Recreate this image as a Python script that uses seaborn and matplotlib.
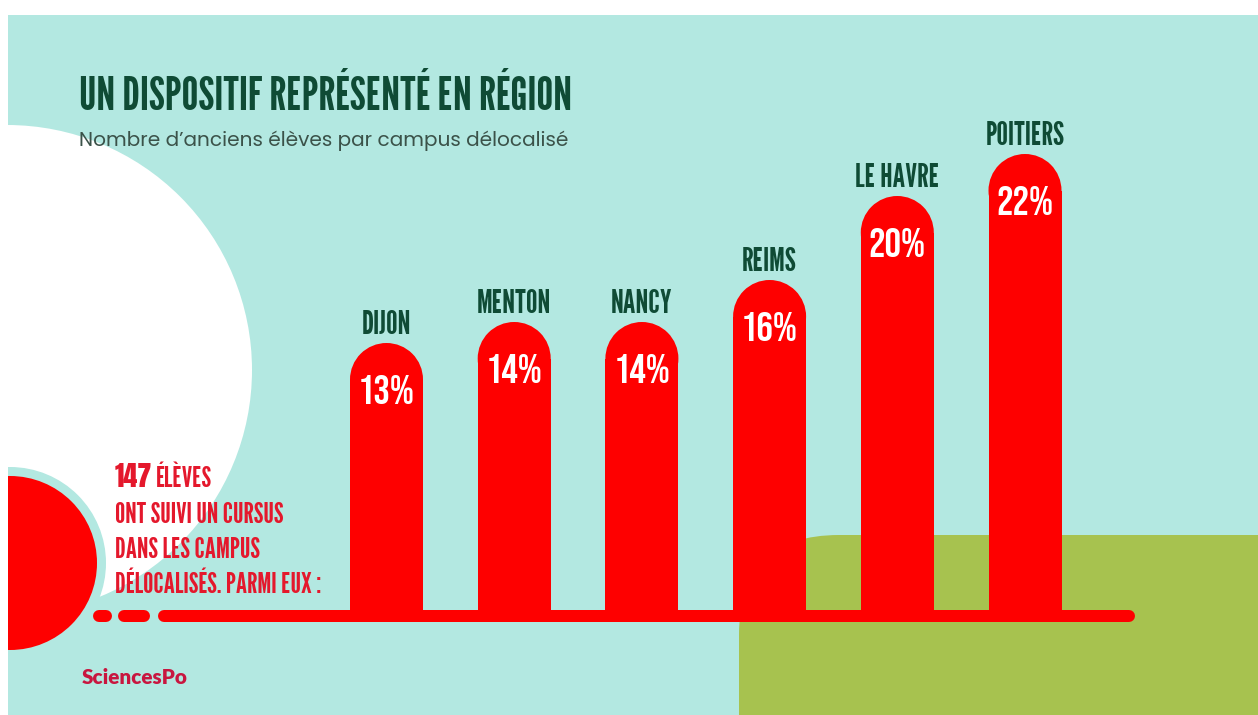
"""Infographic: former students per delocalised Sciences Po campus."""

import matplotlib

matplotlib.use("Agg")
import matplotlib.pyplot as plt
import pandas as pd
import seaborn as sns
from matplotlib.font_manager import FontProperties
from matplotlib.patches import Circle, Ellipse, FancyBboxPatch, Rectangle
from matplotlib.textpath import TextPath

# data
CAMPUS = ["DIJON", "MENTON", "NANCY", "REIMS", "LE HAVRE", "POITIERS"]
SHARE = [13, 14, 14, 16, 20, 22]
TOTAL_STUDENTS = 147
INTRO_LINES = ["ONT SUIVI UN CURSUS", "DANS LES CAMPUS", "DÉLOCALISÉS. PARMI EUX :"]
TITLE = "UN DISPOSITIF REPRÉSENTÉ EN RÉGION"
SUBTITLE = "Nombre d’anciens élèves par campus délocalisé"
BRAND = "SciencesPo"

W, H, DPI = 1258, 715, 100
TEAL = "#b3e8e1"
RED = "#fe0000"
TEXT_RED = "#e4182c"
GREEN = "#a7c24f"
DARK_GREEN = "#0f4b35"
SUB_GREY = "#3b5249"
BRAND_RED = "#c8163f"

COND = FontProperties(family=["League Gothic", "Oswald", "DejaVu Sans"])
BEBAS = FontProperties(family=["Bebas Neue", "DejaVu Sans"])
ANTON = FontProperties(family=["Anton", "DejaVu Sans"])
GEOMETRIC = FontProperties(family=["Poppins", "DejaVu Sans"])
BRAND_FONT = FontProperties(family=["Lato", "DejaVu Sans"], weight="heavy")


def fit_size(fp, sample, width_px, cap_px):
    """Point size giving cap_px cap height, shrunk if the sample ink would exceed width_px."""
    cap_ratio = TextPath((0, 0), "H", size=100, prop=fp).get_extents().height / 100
    ink_ratio = TextPath((0, 0), sample, size=100, prop=fp).get_extents().width / 100
    px_per_pt = DPI / 72
    return min(cap_px / (cap_ratio * px_per_pt), width_px / (ink_ratio * px_per_pt))


sns.set_theme(style="white")
plt.rcParams["font.family"] = ["Lato", "DejaVu Sans"]

fig = plt.figure(figsize=(W / DPI, H / DPI), dpi=DPI, facecolor="white")

# background layer in pixel coordinates
bg = fig.add_axes([0, 0, 1, 1])
bg.set_xlim(0, W)
bg.set_ylim(H, 0)
bg.axis("off")

panel = Rectangle((8, 15), W - 8, H - 15, facecolor=TEAL, edgecolor="none", zorder=0)
bg.add_patch(panel)
for patch in [
    Circle((7, 370), 245, facecolor="white", edgecolor="none", zorder=1),
    FancyBboxPatch((739, 535), 700, 400, boxstyle="round,pad=0,rounding_size=100",
                   facecolor=GREEN, edgecolor="none", zorder=1),
    Circle((10, 563), 96, facecolor=TEAL, edgecolor="none", zorder=2),
    Circle((10, 563), 87, facecolor=RED, edgecolor="none", zorder=3),
]:
    bg.add_patch(patch)
    patch.set_clip_path(panel)

lw_pt = 12 * 72 / DPI
for x0, x1 in [(99, 106), (124, 144), (164, 1129)]:
    bg.plot([x0, x1], [616, 616], color=RED, lw=lw_pt, solid_capstyle="round", zorder=4)

bg.text(79, 110, TITLE, fontproperties=COND, color=DARK_GREEN,
        fontsize=fit_size(COND, TITLE, 490, 35), va="baseline")
bg.text(79, 146, SUBTITLE, fontproperties=GEOMETRIC, color=SUB_GREY,
        fontsize=fit_size(GEOMETRIC, SUBTITLE, 507, 14), va="baseline")

line_size = fit_size(COND, INTRO_LINES[0], 168, 22)
num = bg.text(115, 487, str(TOTAL_STUDENTS), fontproperties=ANTON, color=TEXT_RED,
              fontsize=fit_size(ANTON, str(TOTAL_STUDENTS), 36, 29), va="baseline")
num_right = bg.transData.inverted().transform(
    (num.get_window_extent(fig.canvas.get_renderer()).x1, 0))[0]
bg.text(num_right + 4, 487, "ÉLÈVES", fontproperties=COND, color=TEXT_RED,
        fontsize=line_size, va="baseline")
for i, line in enumerate(INTRO_LINES):
    bg.text(115, 523 + 35 * i, line, fontproperties=COND, color=TEXT_RED,
            fontsize=line_size, va="baseline")

bg.text(82, 678, BRAND, fontproperties=BRAND_FONT, color=BRAND_RED,
        fontsize=fit_size(BRAND_FONT, BRAND, 105, 16), va="center")

# bar chart layer: value 0 sits on the red baseline
px_per_unit = 21.0
y_max = 28
base_px = 616
step_px = (1025 - 386.5) / 5
left_px = 386.5 - step_px
ax = fig.add_axes([left_px / W, (H - base_px) / H, 7 * step_px / W, y_max * px_per_unit / H])
ax.patch.set_alpha(0)

df = pd.DataFrame({"campus": CAMPUS, "share": SHARE})
bar_w = 73 / step_px
sns.barplot(data=df, x="campus", y="share", color=RED, saturation=1, width=bar_w,
            linewidth=0, ax=ax, zorder=3)
ax.set_xlim(-1, 6)
ax.set_ylim(0, y_max)
ax.set_xlabel("")
ax.set_ylabel("")
ax.set_xticks([])
ax.set_yticks([])
sns.despine(ax=ax, left=True, bottom=True)

cap_ry = 36.5 / px_per_unit
pct_size = fit_size(BEBAS, "22%", 54, 32)
city_size = fit_size(COND, "POITIERS", 78, 24)
for bar, value, name in zip(ax.patches, SHARE, CAMPUS):
    cx = bar.get_x() + bar.get_width() / 2
    bar.set_height(value - cap_ry)
    ax.add_patch(Ellipse((cx, value - cap_ry), bar.get_width(), 2 * cap_ry,
                         facecolor=RED, edgecolor="none", zorder=3))
    ax.text(cx, value - 2.9, f"{value}%", fontproperties=BEBAS, color="white",
            fontsize=pct_size, ha="center", va="baseline", zorder=4)
    ax.text(cx, value + 0.45, name, fontproperties=COND, color=DARK_GREEN,
            fontsize=city_size, ha="center", va="baseline", zorder=4)

fig.savefig("out.png", dpi=DPI, facecolor="white")
